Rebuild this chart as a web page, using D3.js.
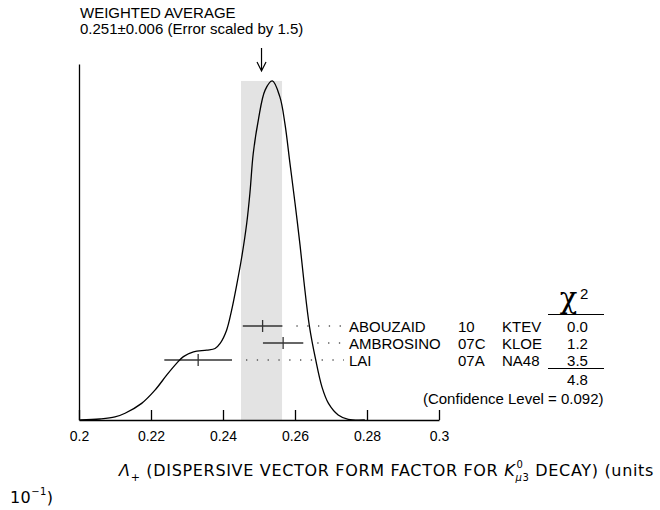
<!DOCTYPE html>
<html>
<head>
<meta charset="utf-8">
<script src="https://cdn.jsdelivr.net/npm/d3@7"></script>
<style>
  body { margin: 0; background: #fff; }
  svg { display: block; }
</style>
</head>
<body>
<svg id="chart" width="660" height="510"></svg>
<script>
const names = ["ABOUZAID", "AMBROSINO", "LAI"]
const years = ["10", "07C", "07A"]
const experiments = ["KTEV", "KLOE", "NA48"]
const values = [0.2510, 0.2567, 0.2331]
const errors = [0.0055, 0.0056, 0.0094]
const chi2 = ["0.0", "1.2", "3.5"]
const chi2Total = "4.8"
const confidenceLevel = "0.092"

const average = 0.2507
const averageError = 0.0057

// ideogram curve (relative height, peak = 1)
const curveX = [0.2003, 0.2058, 0.2100, 0.2128, 0.2174, 0.2211, 0.2244, 0.2271, 0.2290, 0.2318,
  0.2355, 0.2378, 0.2392, 0.2410, 0.2424, 0.2438, 0.2452, 0.2466, 0.2475, 0.2484,
  0.2498, 0.2517, 0.2537, 0.2558, 0.2572, 0.2586, 0.2600, 0.2614, 0.2625, 0.2640,
  0.2657, 0.2675, 0.2693, 0.2720, 0.2748, 0.2794]
const curveY = [0.000, 0.003, 0.009, 0.020, 0.049, 0.088, 0.133, 0.167, 0.187, 0.201,
  0.206, 0.211, 0.226, 0.265, 0.324, 0.398, 0.480, 0.581, 0.672, 0.786,
  0.884, 0.973, 1.000, 0.953, 0.874, 0.757, 0.640, 0.516, 0.407, 0.277,
  0.180, 0.097, 0.049, 0.015, 0.002, 0.000]

const tickValues = [0.2, 0.22, 0.24, 0.26, 0.28, 0.3]
const tickLabels = ["0.2", "0.22", "0.24", "0.26", "0.28", "0.3"]

const font = "'Liberation Sans', Arial, Helvetica, sans-serif"

const svg = d3.select("#chart")
  .style("font-family", font)

const x = d3.scaleLinear().domain([0.2, 0.3]).range([79, 439])
const y = d3.scaleLinear().domain([0, 1.05]).range([420, 64])
const row = d3.scalePoint().domain(names).range([326, 360])

// weighted average band
svg.append("rect")
  .attr("x", x(average - averageError))
  .attr("y", y(1))
  .attr("width", x(average + averageError) - x(average - averageError))
  .attr("height", y(0) - y(1))
  .attr("fill", "#e3e3e3")

// axes
svg.append("g")
  .attr("transform", `translate(0,${y(0)})`)
  .call(d3.axisBottom(x)
    .tickValues(tickValues)
    .tickFormat((d, i) => tickLabels[i])
    .tickSizeInner(-10)
    .tickSizeOuter(0)
    .tickPadding(11))
  .call(g => g.selectAll("line, path").attr("stroke", "#000").attr("stroke-width", 1.3))
  .call(g => g.selectAll("text").attr("fill", "#000").style("font-size", "14px").style("font-family", font))

svg.append("g")
  .attr("transform", `translate(${x(0.2)},0)`)
  .call(d3.axisLeft(y).ticks(0).tickSizeOuter(0))
  .call(g => g.select("path").attr("stroke", "#000").attr("stroke-width", 1.3))

// dotted leaders
const labelX = 349
svg.append("g")
  .selectAll("line")
  .data(names)
  .join("line")
  .attr("x1", (d, i) => x(values[i] + errors[i]) + 14)
  .attr("x2", labelX - 5)
  .attr("y1", d => row(d))
  .attr("y2", d => row(d))
  .attr("stroke", "#555")
  .attr("stroke-width", 1.3)
  .attr("stroke-dasharray", "1.3 9.5")

// error bars
const bars = svg.append("g")
  .attr("stroke", "#333")
  .attr("stroke-width", 1.3)
bars.selectAll(".err")
  .data(names)
  .join("line")
  .attr("x1", (d, i) => x(values[i] - errors[i]))
  .attr("x2", (d, i) => x(values[i] + errors[i]))
  .attr("y1", d => row(d))
  .attr("y2", d => row(d))
bars.selectAll(".mid")
  .data(names)
  .join("line")
  .attr("x1", (d, i) => x(values[i]))
  .attr("x2", (d, i) => x(values[i]))
  .attr("y1", d => row(d) - 6)
  .attr("y2", d => row(d) + 6)

// ideogram
const line = d3.line()
  .x((d, i) => x(curveX[i]))
  .y(d => y(d))
  .curve(d3.curveCatmullRom.alpha(0.5))
svg.append("path")
  .attr("d", line(curveY))
  .attr("fill", "none")
  .attr("stroke", "#000")
  .attr("stroke-width", 1.3)

// arrow to weighted average
const ax = x(average)
svg.append("path")
  .attr("d", `M${ax},48 L${ax},71 M${ax - 4.5},62 L${ax},71 L${ax + 4.5},62`)
  .attr("fill", "none")
  .attr("stroke", "#000")
  .attr("stroke-width", 1.2)

// header text
svg.append("text").attr("x", 80).attr("y", 17.5)
  .style("font-size", "15px").text("WEIGHTED AVERAGE")
svg.append("text").attr("x", 80).attr("y", 33.5)
  .style("font-size", "15px").text("0.251\u00b10.006 (Error scaled by 1.5)")

// measurement labels
const labels = svg.append("g").style("font-size", "15px").attr("fill", "#000")
labels.selectAll(".name").data(names).join("text")
  .attr("x", labelX).attr("y", d => row(d) + 6).text(d => d)
labels.selectAll(".year").data(names).join("text")
  .attr("x", 458).attr("y", d => row(d) + 6).text((d, i) => years[i])
labels.selectAll(".exp").data(names).join("text")
  .attr("x", 502).attr("y", d => row(d) + 6).text((d, i) => experiments[i])
labels.selectAll(".chi").data(names).join("text")
  .attr("x", 577.5).attr("y", d => row(d) + 6)
  .attr("text-anchor", "middle").text((d, i) => chi2[i])

// chi2 column
svg.append("text").attr("x", 568.5).attr("y", 308)
  .attr("text-anchor", "middle")
  .style("font-family", "'DejaVu Serif', 'Liberation Serif', serif")
  .style("font-size", "29px").text("\u03c7")
svg.append("text").attr("x", 580).attr("y", 299)
  .style("font-size", "15px").text("2")
svg.append("line").attr("x1", 548).attr("x2", 604).attr("y1", 314.5).attr("y2", 314.5)
  .attr("stroke", "#000").attr("stroke-width", 1.2)
svg.append("line").attr("x1", 548).attr("x2", 604).attr("y1", 368.5).attr("y2", 368.5)
  .attr("stroke", "#000").attr("stroke-width", 1.2)
svg.append("text").attr("x", 577.5).attr("y", 385).attr("text-anchor", "middle")
  .style("font-size", "15px").text(chi2Total)
svg.append("text").attr("x", 603.5).attr("y", 403.5).attr("text-anchor", "end")
  .style("font-size", "15px").text(`(Confidence Level = ${confidenceLevel})`)

// axis title
const tfont = "'DejaVu Sans', sans-serif"
const t1 = svg.append("text").attr("x", 119).attr("y", 476)
  .style("font-family", tfont).style("font-size", "16px").style("letter-spacing", "0.68px")
t1.append("tspan").style("font-style", "italic").text("\u039b")
t1.append("tspan").attr("dy", 5).style("font-size", "11px").text("+")
t1.append("tspan").attr("dy", -5).text(" (DISPERSIVE VECTOR FORM FACTOR FOR ")
const kPart = t1.append("tspan").style("font-style", "italic").text("K")
t1.append("tspan").attr("dy", 5).style("font-size", "10px")
  .html("<tspan style='font-style:italic'>\u03bc</tspan>3")
t1.append("tspan").attr("dy", -5).text(" DECAY) (units")

// superscript 0 above the subscript
const kBox = kPart.node().getComputedTextLength()
const kStart = kPart.node().getStartPositionOfChar(0).x
svg.append("text").attr("x", kStart + kBox + 1).attr("y", 468)
  .style("font-family", tfont).style("font-size", "10px").text("0")

const t2 = svg.append("text").attr("x", 10).attr("y", 503)
  .style("font-family", tfont).style("font-size", "16px").style("letter-spacing", "0.4px")
t2.append("tspan").text("10")
t2.append("tspan").attr("dy", -8).style("font-size", "10px").text("\u22121")
t2.append("tspan").attr("dy", 8).text(")")
</script>
</body>
</html>
